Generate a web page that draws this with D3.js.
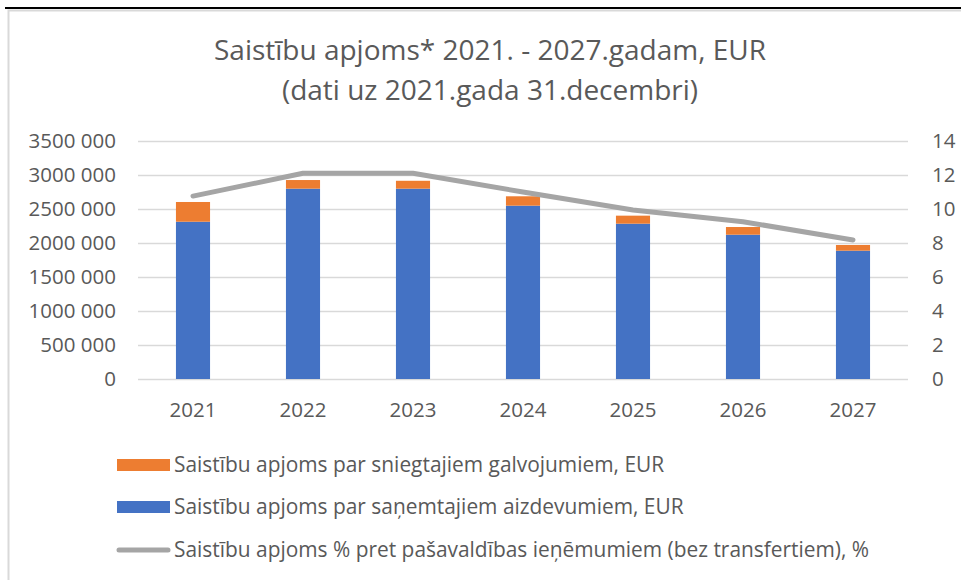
<!DOCTYPE html>
<html><head><meta charset="utf-8">
<script src="https://cdn.jsdelivr.net/npm/d3@7"></script>
<style>
html,body{margin:0;padding:0;background:#fff;}
svg{display:block;font-family:"Open Sans", Lato, sans-serif;}
</style></head>
<body>
<svg id="c" width="961" height="580"></svg>
<script>
const years = ["2021","2022","2023","2024","2025","2026","2027"];
const loans = [2313000, 2799000, 2799000, 2549000, 2284000, 2122000, 1887000];
const guarantees = [290000, 127000, 116000, 138000, 118000, 113000, 84000];
const ratio = [10.76, 12.1, 12.1, 11.0, 9.94, 9.25, 8.18];
const leftTicks = [0, 500000, 1000000, 1500000, 2000000, 2500000, 3000000, 3500000];
const rightTicks = [0, 2, 4, 6, 8, 10, 12, 14];
const titleLines = ["Saistību apjoms* 2021. - 2027.gadam, EUR", "(dati uz 2021.gada 31.decembri)"];
const legendLabels = [
  "Saistību apjoms par sniegtajiem galvojumiem, EUR",
  "Saistību apjoms par saņemtajiem aizdevumiem, EUR",
  "Saistību apjoms % pret pašavaldības ieņēmumiem (bez transfertiem), %"
];

const C = {blue:"#4472C4", orange:"#ED7D31", grey:"#A5A5A5", text:"#595959", grid:"#D9D9D9"};
const FONT = "'Open Sans', Lato, sans-serif";
const svg = d3.select("#c");

// page frame
svg.append("line").attr("x1",5).attr("x2",961).attr("y1",8).attr("y2",8)
  .attr("stroke","#000").attr("stroke-width",2);
svg.append("path").attr("d","M8.5,580 V10.5 H961").attr("fill","none")
  .attr("stroke",C.grid).attr("stroke-width",2);

const L = 138, R = 908, T = 141, B = 379;
const x = d3.scaleBand().domain(years).range([L, R]).paddingInner(0.69).paddingOuter(0.345);
const y = d3.scaleLinear().domain([0, 3500000]).range([B, T]);
const y2 = d3.scaleLinear().domain([0, 14]).range([B, T]);

const fmt = n => n >= 1000 ? Math.floor(n/1000) + " " + String(n%1000).padStart(3,"0") : String(n);

// gridlines
const grid = svg.append("g").attr("transform",`translate(${L},0)`)
  .call(d3.axisLeft(y).tickValues(leftTicks).tickSize(-(R-L)).tickFormat(""));
grid.select(".domain").remove();
grid.selectAll("line").attr("stroke",C.grid).attr("stroke-width",1.5);

// title
svg.append("g").selectAll("text").data(titleLines).join("text")
  .attr("x",490).attr("y",(d,i)=>60+i*40).attr("text-anchor","middle")
  .attr("fill",C.text).attr("font-size",28).text(d=>d);

// bars
const stackData = years.map((yr,i)=>({yr, loan:loans[i], guar:guarantees[i]}));
svg.append("g").selectAll("rect").data(stackData).join("rect")
  .attr("x",d=>x(d.yr)).attr("width",x.bandwidth())
  .attr("y",d=>y(d.loan)).attr("height",d=>y(0)-y(d.loan)).attr("fill",C.blue);
svg.append("g").selectAll("rect").data(stackData).join("rect")
  .attr("x",d=>x(d.yr)).attr("width",x.bandwidth())
  .attr("y",d=>y(d.loan+d.guar)).attr("height",d=>y(d.loan)-y(d.loan+d.guar)).attr("fill",C.orange);

// line
const line = d3.line().x((d,i)=>x(years[i])+x.bandwidth()/2).y(d=>y2(d));
svg.append("path").datum(ratio).attr("d",line).attr("fill","none")
  .attr("stroke",C.grey).attr("stroke-width",5).attr("stroke-linecap","round").attr("stroke-linejoin","round");

// axes
function styleAxis(g){ g.select(".domain").remove(); g.selectAll("line").remove();
  g.selectAll("text").attr("fill",C.text).attr("font-size",20.5).attr("font-family",FONT); }
svg.append("g").attr("transform",`translate(${L},0)`)
  .call(d3.axisLeft(y).tickValues(leftTicks).tickSize(0).tickPadding(22).tickFormat(fmt)).call(styleAxis);
svg.append("g").attr("transform",`translate(${R},0)`)
  .call(d3.axisRight(y2).tickValues(rightTicks).tickSize(0).tickPadding(24)).call(styleAxis);
svg.append("g").attr("transform",`translate(0,${B})`)
  .call(d3.axisBottom(x).tickSize(0).tickPadding(23)).call(styleAxis);

// legend
const lg = svg.append("g");
const ly = [465, 507, 550];
lg.append("rect").attr("x",117).attr("y",ly[0]-6).attr("width",53).attr("height",12).attr("fill",C.orange);
lg.append("rect").attr("x",117).attr("y",ly[1]-6).attr("width",53).attr("height",12).attr("fill",C.blue);
lg.append("line").attr("x1",119).attr("x2",168).attr("y1",ly[2]).attr("y2",ly[2])
  .attr("stroke",C.grey).attr("stroke-width",5).attr("stroke-linecap","round");
lg.selectAll("text").data(legendLabels).join("text")
  .attr("x",174).attr("y",(d,i)=>ly[i]).attr("dy","0.35em")
  .attr("fill",C.text).attr("font-size",20.9).text(d=>d);
</script>
</body></html>
